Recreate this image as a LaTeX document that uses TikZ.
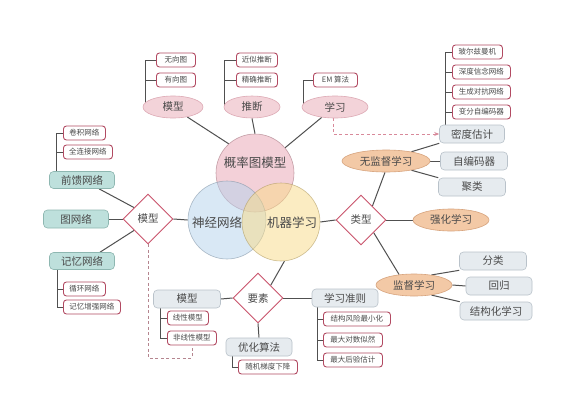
\documentclass[tikz,border=0pt]{standalone}
\usepackage{fontspec}
\setmainfont{Noto Sans CJK SC}
\usetikzlibrary{shapes.geometric,calc,backgrounds,arrows.meta}
\definecolor{boxred}{HTML}{B24A62}
\definecolor{txt}{HTML}{4A4A4A}
\definecolor{gfill}{HTML}{E6EBEF}
\definecolor{gborder}{HTML}{B9C2CA}
\definecolor{pfill}{HTML}{F3D3D9}
\definecolor{pborder}{HTML}{DDAAB5}
\definecolor{ofill}{HTML}{F3C9A6}
\definecolor{oborder}{HTML}{D7A47E}
\definecolor{tfill}{HTML}{BEE0DC}
\definecolor{tborder}{HTML}{8EB7B1}
\definecolor{diared}{HTML}{C9536C}
\definecolor{lgray}{HTML}{505050}
\definecolor{dpink}{HTML}{D8899A}
\definecolor{vpink}{HTML}{E8A3B2}
\definecolor{vblue}{HTML}{B5D2EC}
\definecolor{vyellow}{HTML}{F9DB86}
\tikzset{
  sbox/.style={draw=boxred, fill=white, rounded corners=3pt, line width=0.9pt,
    font=\fontsize{7.5}{8}\selectfont, text=txt, inner sep=1pt,
    minimum height=14pt, anchor=west},
  gbox/.style={draw=gborder, fill=gfill, rounded corners=4pt, line width=0.6pt,
    font=\fontsize{10.5}{12}\selectfont, text=txt, inner sep=1pt,
    minimum height=18pt},
  tbox/.style={draw=tborder, fill=tfill, rounded corners=4pt, line width=0.6pt,
    font=\fontsize{10.5}{12}\selectfont, text=txt, inner sep=1pt,
    minimum height=17pt, minimum width=65pt},
  pell/.style={ellipse, draw=pborder, fill=pfill, line width=0.6pt, inner sep=0pt,
    font=\fontsize{10.5}{12}\selectfont, text=txt, minimum height=22pt},
  oell/.style={ellipse, draw=oborder, fill=ofill, line width=0.6pt, inner sep=0pt,
    font=\fontsize{10.5}{12}\selectfont, text=txt, minimum height=22pt},
  dia/.style={diamond, aspect=1, draw=diared, fill=white, line width=0.9pt, inner sep=0pt,
    font=\fontsize{10.5}{12}\selectfont, text=txt, minimum size=50pt},
  venn/.style={circle, minimum size=78pt, inner sep=0pt, fill opacity=0.5, draw opacity=0.6, line width=0.6pt},
  vtxt/.style={font=\fontsize{12.5}{14}\selectfont, text=txt},
  conn/.style={draw=lgray, line width=1pt},
  brk/.style={draw=lgray, line width=0.7pt},
  dsh/.style={draw=dpink, line width=0.8pt, dashed, dash pattern=on 3pt off 2.5pt},
}
\begin{document}
\begin{tikzpicture}[x=1pt,y=-1pt]
\useasboundingbox (0,0) rectangle (564,415);

% Venn circles
\node[venn, fill=vpink, draw=vpink!70!black] (pgm) at (255,173) {};
\node[venn, fill=vblue, draw=vblue!70!black] (nn) at (227,220) {};
\node[venn, fill=vyellow, draw=vyellow!70!black] (ml) at (281,222) {};
\node[vtxt] (tpgm) at (255,163) {概率图模型};
\node[vtxt] (tnn) at (217,223) {神经网络};
\node[vtxt] (tml) at (292,223) {机器学习};

% top ellipses
\node[pell, minimum width=60pt] (mx) at (173,107) {模型};
\node[pell, minimum width=56pt] (tui) at (252,107) {推断};
\node[pell, minimum width=66pt] (xx) at (335,107) {学习};
\node[sbox, minimum width=39pt] (wx) at (156,60) {无向图};
\node[sbox, minimum width=39pt] (yx) at (156,80) {有向图};
\node[sbox, minimum width=41pt] (js) at (236,60) {近似推断};
\node[sbox, minimum width=41pt] (jq) at (236,80) {精确推断};
\node[sbox, minimum width=44pt] (em) at (313,80) {EM 算法};

% right top
\node[sbox, minimum width=50pt] (b1) at (452,52) {玻尔兹曼机};
\node[sbox, minimum width=58pt] (b2) at (452,72) {深度信念网络};
\node[sbox, minimum width=58pt] (b3) at (452,92) {生成对抗网络};
\node[sbox, minimum width=58pt] (b4) at (452,112) {变分自编码器};
\node[gbox, minimum width=65pt] (de) at (472,134) {密度估计};
\node[gbox, minimum width=67pt] (ae) at (474,161) {自编码器};
\node[gbox, minimum width=67pt] (jl) at (472,187) {聚类};
\node[oell, minimum width=88pt] (ul) at (386,161) {无监督学习};
\node[dia] (tp) at (361,220) {类型};
\node[oell, minimum width=76pt] (qh) at (451,220) {强化学习};
\node[oell, minimum width=76pt] (sl) at (414,285) {监督学习};
\node[gbox, minimum width=67pt] (fl) at (493,261) {分类};
\node[gbox, minimum width=66pt] (hg) at (499,286) {回归};
\node[gbox, minimum width=72pt] (jg) at (496,311) {结构化学习};

% left
\node[sbox, minimum width=42pt] (c1) at (63,133) {卷积网络};
\node[sbox, minimum width=49pt] (c2) at (63,152) {全连接网络};
\node[tbox] (ff) at (82,180) {前馈网络};
\node[tbox, minimum height=18pt] (gn) at (76,219) {图网络};
\node[tbox] (jy) at (82,261) {记忆网络};
\node[sbox, minimum width=42pt] (r1) at (63,289) {循环网络};
\node[sbox, minimum width=57pt] (r2) at (63,307) {记忆增强网络};
\node[dia] (lmd) at (148,219) {模型};

% bottom
\node[dia] (ys) at (258,298) {要素};
\node[gbox, minimum width=67pt] (mb) at (187,299) {模型};
\node[sbox, minimum width=41pt] (lx) at (167,318) {线性模型};
\node[sbox, minimum width=49pt] (fx) at (167,338) {非线性模型};
\node[gbox, minimum width=66pt] (yh) at (259,347) {优化算法};
\node[sbox, minimum width=59pt] (sg) at (238,367) {随机梯度下降};
\node[gbox, minimum width=66pt] (zz) at (345,298) {学习准则};
\node[sbox, minimum width=67pt] (z1) at (323,319) {结构风险最小化};
\node[sbox, minimum width=59pt] (z2) at (323,340) {最大对数似然};
\node[sbox, minimum width=59pt] (z3) at (323,360) {最大后验估计};

\coordinate (dl) at (148,358);

\begin{scope}[on background layer]
\fill[white] (0,0) rectangle (564,415);
% brackets
\draw[brk] (wx.west) -- ++(-11,0) coordinate (k1) -- (k1 |- mx.center);
\draw[brk] (yx.west) -- (yx.west -| k1);
\draw[brk] (js.west) -- ++(-12,0) coordinate (k2) -- (k2 |- tui.center);
\draw[brk] (jq.west) -- (jq.west -| k2);
\draw[brk] (em.west) -- ++(-10,0) coordinate (k3) -- (k3 |- xx.center);
\draw[brk] (b1.west) -- ++(-7,0) coordinate (k4) -- (k4 |- de.center);
\draw[brk] (b2.west) -- (b2.west -| k4);
\draw[brk] (b3.west) -- (b3.west -| k4);
\draw[brk] (b4.west) -- (b4.west -| k4);
\draw[brk] (c1.west) -- ++(-7,0) coordinate (k5) -- (k5 |- ff.center);
\draw[brk] (c2.west) -- (c2.west -| k5);
\draw[brk] (r2.west) -- ++(-6,0) coordinate (k6) -- (k6 |- jy.center);
\draw[brk] (r1.west) -- (r1.west -| k6);
\draw[brk] (fx.west) -- ++(-7,0) coordinate (k7) -- (k7 |- mb.center);
\draw[brk] (lx.west) -- (lx.west -| k7);
\draw[brk] (sg.west) -- ++(-6,0) coordinate (k8) -- (k8 |- yh.center);
\draw[brk] (z3.west) -- ++(-6,0) coordinate (k9) -- (k9 |- zz.center);
\draw[brk] (z1.west) -- (z1.west -| k9);
\draw[brk] (z2.west) -- (z2.west -| k9);

% connectors
\draw[conn] (mx.-35) -- (pgm.132);
\draw[conn] (tui.south) -- (pgm.north);
\draw[conn] (xx.218) -- (pgm.40);
\draw[conn] (nn.west) -- (lmd.east);
\draw[conn] (gn.east) -- (lmd.west);
\draw[conn] ($(ff.south)+(17,0)$) -- ($(lmd.west)!0.45!(lmd.north)$);
\draw[conn] ($(jy.north)+(18,0)$) -- ($(lmd.west)!0.45!(lmd.south)$);
\draw[conn] (ml.east) -- (tp.west);
\draw[conn] (tp.east) -- (qh.west);
\draw[conn] ($(tp.north)!0.45!(tp.east)$) -- (ul.265);
\draw[conn] ($(tp.south)!0.5!(tp.east)$) -- (sl.145);
\draw[conn] (ul.20) -- (de.south west);
\draw[conn] (ul.east) -- (ae.west);
\draw[conn] (ul.-20) -- (jl.north west);
\draw[conn] (sl.30) -- (fl.south west);
\draw[conn] (sl.east) -- (hg.west);
\draw[conn] (sl.-30) -- (jg.north west);
\draw[conn] ($(ys.north)!0.5!(ys.east)$) -- (ml.-85);
\draw[conn] (mb.east) -- (ys.west);
\draw[conn] (ys.east) -- (zz.west);
\draw[conn] (ys.south) -- (yh.north);

% dashed
\draw[dsh, -{Stealth[length=5pt,width=4pt]}] ($(xx.south)+(-2,0)$) |- (de.west);
\draw[dsh, draw=dpink!60!gray, shorten >=3pt] (lmd.south) -- (dl) -| (fx.south);
\end{scope}
\end{tikzpicture}
\end{document}
